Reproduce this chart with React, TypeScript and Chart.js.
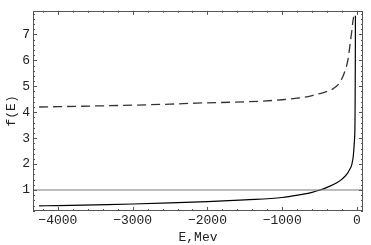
import React, { useEffect, useRef } from "react";
import { Chart, registerables } from "chart.js";

Chart.register(...registerables);

// Solid curve
const solidE = [-4250, -4000, -3500, -3000, -2500, -2000, -1500, -1000, -760, -600, -495, -400, -270, -200, -138, -100, -71, -50, -36, -27, -25, -23, -21];
const solidF = [0.39, 0.40, 0.43, 0.46, 0.50, 0.55, 0.62, 0.71, 0.82, 0.91, 1.0, 1.1, 1.28, 1.42, 1.6, 1.78, 1.97, 2.3, 2.85, 3.6, 4.5, 5.8, 7.72];

// Dashed curve
const dashedE = [-4250, -3500, -3000, -2500, -2143, -1500, -1256, -1000, -806, -718, -600, -495, -400, -317, -227, -160, -116, -94, -71, -55, -45];
const dashedF = [4.2, 4.24, 4.27, 4.31, 4.35, 4.40, 4.43, 4.48, 4.54, 4.57, 4.64, 4.72, 4.8, 4.91, 5.16, 5.6, 6.1, 6.6, 7.1, 7.5, 7.68];

// Reference line f = 1
const refE = [-4500, 200];
const refF = [1, 1];

const xTickValues = [-4000, -3000, -2000, -1000, 0];
const yTickValues = [1, 2, 3, 4, 5, 6, 7];
const xMinorStep = 200;
const yMinorStep = 0.2;

const FONT = "'Liberation Mono', 'DejaVu Sans Mono', monospace";

const toPts = (xs: number[], ys: number[]) => xs.map((x, i) => ({ x, y: ys[i] }));

const frameTicks = {
  id: "frameTicks",
  afterDraw(chart: any) {
    const { ctx, chartArea } = chart;
    const xs = chart.scales.x;
    const ys = chart.scales.y;
    const { left, right, top, bottom } = chartArea;
    ctx.save();
    ctx.strokeStyle = "#555";
    ctx.lineWidth = 1;
    ctx.strokeRect(Math.round(left) + 0.5, Math.round(top) + 0.5, Math.round(right - left) - 1, Math.round(bottom - top) - 1);
    ctx.beginPath();
    const isMajor = (v: number, arr: number[]) => arr.some((m) => Math.abs(m - v) < 1e-6);
    for (let v = Math.ceil(xs.min / xMinorStep) * xMinorStep; v <= xs.max; v += xMinorStep) {
      const px = Math.round(xs.getPixelForValue(v)) + 0.5;
      const len = isMajor(v, xTickValues) ? 4 : 2;
      ctx.moveTo(px, bottom);
      ctx.lineTo(px, bottom - len);
      ctx.moveTo(px, top);
      ctx.lineTo(px, top + len);
    }
    for (let i = Math.ceil(ys.min / yMinorStep); i * yMinorStep <= ys.max; i++) {
      const v = i * yMinorStep;
      const py = Math.round(ys.getPixelForValue(v)) + 0.5;
      const len = isMajor(v, yTickValues) ? 4 : 2;
      ctx.moveTo(left, py);
      ctx.lineTo(left + len, py);
      ctx.moveTo(right, py);
      ctx.lineTo(right - len, py);
    }
    ctx.stroke();
    ctx.restore();
  },
};

export default function App() {
  const ref = useRef<HTMLCanvasElement | null>(null);
  useEffect(() => {
    if (!ref.current) return;
    const chart = new Chart(ref.current, {
      type: "scatter",
      data: {
        datasets: [
          {
            data: toPts(refE, refF),
            showLine: true,
            borderColor: "#7a7a7a",
            borderWidth: 1,
            pointRadius: 0,
          },
          {
            data: toPts(dashedE, dashedF),
            showLine: true,
            borderColor: "#333",
            borderWidth: 1.3,
            borderDash: [9, 5],
            pointRadius: 0,
            cubicInterpolationMode: "monotone",
          },
          {
            data: toPts(solidE, solidF),
            showLine: true,
            borderColor: "#000",
            borderWidth: 1.2,
            pointRadius: 0,
            cubicInterpolationMode: "monotone",
          },
        ],
      },
      options: {
        responsive: false,
        animation: false,
        layout: { padding: { left: 0, right: 8, top: 5, bottom: 0 } },
        plugins: { legend: { display: false }, tooltip: { enabled: false } },
        scales: {
          x: {
            type: "linear",
            min: -4332,
            max: 80,
            afterBuildTicks: (s: any) => {
              s.ticks = xTickValues.map((v) => ({ value: v }));
            },
            afterFit: (s: any) => {
              s.height = 34;
            },
            grid: { display: false, drawTicks: false },
            border: { display: false },
            ticks: {
              padding: 2,
              color: "#222",
              font: { family: FONT, size: 13 },
              maxRotation: 0,
              callback: (v: any) => (v < 0 ? "\u2212" + Math.abs(v) : String(v)),
            },
            title: {
              display: true,
              text: "E,Mev",
              color: "#222",
              font: { family: FONT, size: 13 },
              padding: { top: 0, bottom: 0 },
            },
          },
          y: {
            type: "linear",
            min: 0.19,
            max: 7.91,
            afterBuildTicks: (s: any) => {
              s.ticks = yTickValues.map((v) => ({ value: v }));
            },
            afterFit: (s: any) => {
              s.width = 33;
            },
            grid: { display: false, drawTicks: false },
            border: { display: false },
            ticks: {
              padding: 3,
              color: "#222",
              font: { family: FONT, size: 13 },
            },
            title: {
              display: true,
              text: "f(E)",
              color: "#222",
              font: { family: FONT, size: 13 },
              padding: { top: 4, bottom: 0 },
            },
          },
        },
      },
      plugins: [frameTicks],
    } as any);
    return () => chart.destroy();
  }, []);
  return (
    <div style={{ position: "fixed", left: 0, top: 0, width: 371, height: 245, background: "#fff" }}>
      <canvas ref={ref} width={371} height={245} />
    </div>
  );
}
